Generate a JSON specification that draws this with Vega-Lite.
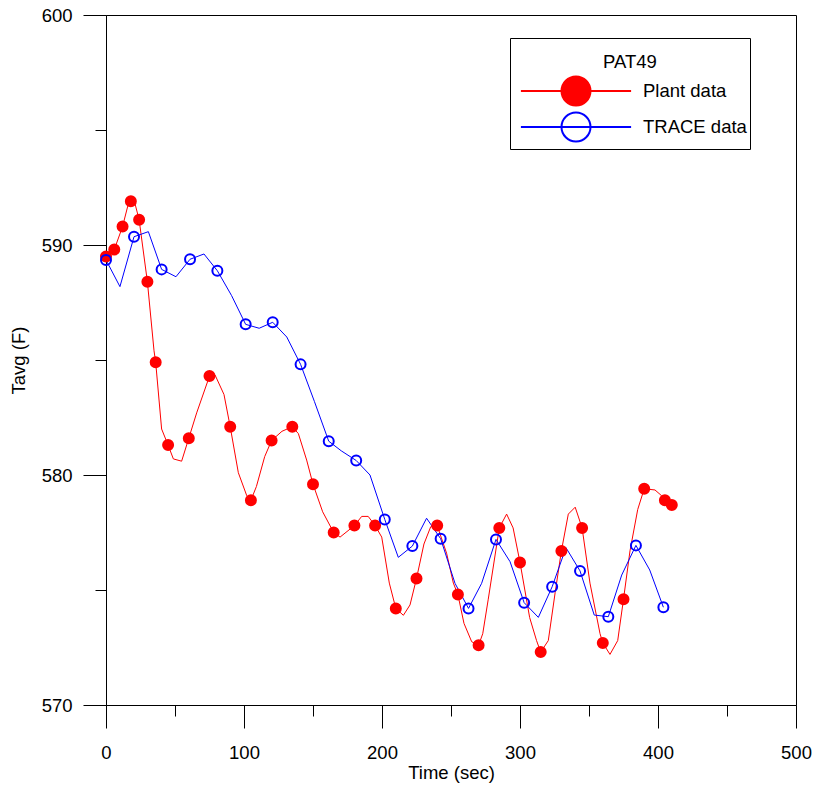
{
  "$schema": "https://vega.github.io/schema/vega-lite/v6.json",
  "autosize": "none",
  "width": 690,
  "height": 690,
  "padding": {"left": 106, "top": 15, "right": 22, "bottom": 87},
  "background": "white",
  "config": {
    "font": "Liberation Sans",
    "view": {"stroke": "black", "strokeWidth": 1},
    "axis": {
      "grid": false,
      "domainColor": "black",
      "tickColor": "black",
      "labelColor": "black",
      "titleColor": "black",
      "labelFont": "Liberation Sans",
      "titleFont": "Liberation Sans",
      "labelFontSize": 18.5,
      "titleFontSize": 18.5,
      "titleFontWeight": "normal",
      "labelFlush": false,
      "labelOverlap": false
    }
  },
  "datasets": {
    "lines": [
      {"series": "Plant data", "t": 0, "v": 589.5},
      {"series": "Plant data", "t": 6, "v": 589.8},
      {"series": "Plant data", "t": 12, "v": 590.8},
      {"series": "Plant data", "t": 17.5, "v": 592.1},
      {"series": "Plant data", "t": 21, "v": 591.8},
      {"series": "Plant data", "t": 24, "v": 591.1},
      {"series": "Plant data", "t": 30, "v": 588.4},
      {"series": "Plant data", "t": 34.8, "v": 585.4},
      {"series": "Plant data", "t": 36, "v": 584.9},
      {"series": "Plant data", "t": 40.3, "v": 582.0},
      {"series": "Plant data", "t": 45, "v": 581.3},
      {"series": "Plant data", "t": 48.8, "v": 580.7},
      {"series": "Plant data", "t": 54.8, "v": 580.6},
      {"series": "Plant data", "t": 60, "v": 581.6},
      {"series": "Plant data", "t": 65.7, "v": 582.7},
      {"series": "Plant data", "t": 75, "v": 584.3},
      {"series": "Plant data", "t": 79, "v": 584.35},
      {"series": "Plant data", "t": 85.5, "v": 583.5},
      {"series": "Plant data", "t": 90, "v": 582.1},
      {"series": "Plant data", "t": 95.9, "v": 580.1},
      {"series": "Plant data", "t": 102, "v": 579.1},
      {"series": "Plant data", "t": 105, "v": 578.9},
      {"series": "Plant data", "t": 109, "v": 579.5},
      {"series": "Plant data", "t": 115, "v": 580.8},
      {"series": "Plant data", "t": 120, "v": 581.5},
      {"series": "Plant data", "t": 127.5, "v": 581.9},
      {"series": "Plant data", "t": 135, "v": 582.1},
      {"series": "Plant data", "t": 139.4, "v": 581.8},
      {"series": "Plant data", "t": 145.4, "v": 580.65},
      {"series": "Plant data", "t": 150, "v": 579.6},
      {"series": "Plant data", "t": 157, "v": 578.4},
      {"series": "Plant data", "t": 165, "v": 577.5},
      {"series": "Plant data", "t": 169.6, "v": 577.3},
      {"series": "Plant data", "t": 180, "v": 577.8},
      {"series": "Plant data", "t": 185.3, "v": 578.2},
      {"series": "Plant data", "t": 190, "v": 578.2},
      {"series": "Plant data", "t": 195, "v": 577.8},
      {"series": "Plant data", "t": 199.8, "v": 577.3},
      {"series": "Plant data", "t": 205.3, "v": 575.3},
      {"series": "Plant data", "t": 210, "v": 574.2},
      {"series": "Plant data", "t": 215.5, "v": 573.9},
      {"series": "Plant data", "t": 220.3, "v": 574.35},
      {"series": "Plant data", "t": 225, "v": 575.5},
      {"series": "Plant data", "t": 230.4, "v": 577.0},
      {"series": "Plant data", "t": 235.3, "v": 577.75},
      {"series": "Plant data", "t": 240, "v": 577.8},
      {"series": "Plant data", "t": 246.8, "v": 576.6},
      {"series": "Plant data", "t": 251.7, "v": 575.3},
      {"series": "Plant data", "t": 255, "v": 574.8},
      {"series": "Plant data", "t": 259.4, "v": 573.55},
      {"series": "Plant data", "t": 265, "v": 572.75},
      {"series": "Plant data", "t": 270, "v": 572.6},
      {"series": "Plant data", "t": 273, "v": 573.1},
      {"series": "Plant data", "t": 277, "v": 574.6},
      {"series": "Plant data", "t": 285, "v": 577.7},
      {"series": "Plant data", "t": 290.3, "v": 578.3},
      {"series": "Plant data", "t": 295, "v": 577.7},
      {"series": "Plant data", "t": 300, "v": 576.2},
      {"series": "Plant data", "t": 307, "v": 573.8},
      {"series": "Plant data", "t": 312, "v": 572.8},
      {"series": "Plant data", "t": 315, "v": 572.3},
      {"series": "Plant data", "t": 320.5, "v": 572.8},
      {"series": "Plant data", "t": 325.5, "v": 574.9},
      {"series": "Plant data", "t": 330, "v": 576.7},
      {"series": "Plant data", "t": 335, "v": 578.3},
      {"series": "Plant data", "t": 340, "v": 578.6},
      {"series": "Plant data", "t": 345, "v": 577.7},
      {"series": "Plant data", "t": 350.7, "v": 575.3},
      {"series": "Plant data", "t": 358, "v": 573.1},
      {"series": "Plant data", "t": 360, "v": 572.7},
      {"series": "Plant data", "t": 365.2, "v": 572.2},
      {"series": "Plant data", "t": 370.8, "v": 572.8},
      {"series": "Plant data", "t": 375, "v": 574.6},
      {"series": "Plant data", "t": 379.7, "v": 576.7},
      {"series": "Plant data", "t": 385.3, "v": 578.5},
      {"series": "Plant data", "t": 390, "v": 579.4},
      {"series": "Plant data", "t": 397.8, "v": 579.35},
      {"series": "Plant data", "t": 402.6, "v": 579.1},
      {"series": "Plant data", "t": 405, "v": 578.9},
      {"series": "Plant data", "t": 410, "v": 578.7},
      {"series": "TRACE data", "t": 0, "v": 589.35},
      {"series": "TRACE data", "t": 10.1, "v": 588.19},
      {"series": "TRACE data", "t": 20.3, "v": 590.36},
      {"series": "TRACE data", "t": 30.7, "v": 590.58},
      {"series": "TRACE data", "t": 40.3, "v": 588.94},
      {"series": "TRACE data", "t": 50.7, "v": 588.62},
      {"series": "TRACE data", "t": 60.9, "v": 589.38},
      {"series": "TRACE data", "t": 71, "v": 589.61},
      {"series": "TRACE data", "t": 80.7, "v": 588.88},
      {"series": "TRACE data", "t": 91, "v": 587.8},
      {"series": "TRACE data", "t": 101.2, "v": 586.55},
      {"series": "TRACE data", "t": 111, "v": 586.38},
      {"series": "TRACE data", "t": 120.8, "v": 586.64},
      {"series": "TRACE data", "t": 131, "v": 586.0},
      {"series": "TRACE data", "t": 141, "v": 584.81},
      {"series": "TRACE data", "t": 151, "v": 583.2},
      {"series": "TRACE data", "t": 161.4, "v": 581.47},
      {"series": "TRACE data", "t": 170.5, "v": 581.05},
      {"series": "TRACE data", "t": 181.3, "v": 580.63},
      {"series": "TRACE data", "t": 191.3, "v": 580.0},
      {"series": "TRACE data", "t": 202, "v": 578.07},
      {"series": "TRACE data", "t": 211.8, "v": 576.42},
      {"series": "TRACE data", "t": 222, "v": 576.91},
      {"series": "TRACE data", "t": 232.3, "v": 578.12},
      {"series": "TRACE data", "t": 242.5, "v": 577.23},
      {"series": "TRACE data", "t": 252.9, "v": 575.29},
      {"series": "TRACE data", "t": 262.7, "v": 574.2},
      {"series": "TRACE data", "t": 272.2, "v": 575.29},
      {"series": "TRACE data", "t": 282.6, "v": 577.2},
      {"series": "TRACE data", "t": 292.8, "v": 576.23},
      {"series": "TRACE data", "t": 303, "v": 574.45},
      {"series": "TRACE data", "t": 313.3, "v": 573.81},
      {"series": "TRACE data", "t": 323.3, "v": 575.14},
      {"series": "TRACE data", "t": 333.3, "v": 576.84},
      {"series": "TRACE data", "t": 343.5, "v": 575.83},
      {"series": "TRACE data", "t": 353.8, "v": 573.91},
      {"series": "TRACE data", "t": 364, "v": 573.84},
      {"series": "TRACE data", "t": 373.7, "v": 575.65},
      {"series": "TRACE data", "t": 384, "v": 576.94},
      {"series": "TRACE data", "t": 394, "v": 575.87},
      {"series": "TRACE data", "t": 403.9, "v": 574.25}
    ],
    "markers": [
      {"series": "Plant data", "t": 0, "v": 589.5},
      {"series": "Plant data", "t": 6, "v": 589.8},
      {"series": "Plant data", "t": 12, "v": 590.8},
      {"series": "Plant data", "t": 18, "v": 591.9},
      {"series": "Plant data", "t": 24, "v": 591.1},
      {"series": "Plant data", "t": 30, "v": 588.4},
      {"series": "Plant data", "t": 36, "v": 584.9},
      {"series": "Plant data", "t": 45, "v": 581.3},
      {"series": "Plant data", "t": 60, "v": 581.6},
      {"series": "Plant data", "t": 75, "v": 584.3},
      {"series": "Plant data", "t": 90, "v": 582.1},
      {"series": "Plant data", "t": 105, "v": 578.9},
      {"series": "Plant data", "t": 120, "v": 581.5},
      {"series": "Plant data", "t": 135, "v": 582.1},
      {"series": "Plant data", "t": 150, "v": 579.6},
      {"series": "Plant data", "t": 165, "v": 577.5},
      {"series": "Plant data", "t": 180, "v": 577.8},
      {"series": "Plant data", "t": 195, "v": 577.8},
      {"series": "Plant data", "t": 210, "v": 574.2},
      {"series": "Plant data", "t": 225, "v": 575.5},
      {"series": "Plant data", "t": 240, "v": 577.8},
      {"series": "Plant data", "t": 255, "v": 574.8},
      {"series": "Plant data", "t": 270, "v": 572.6},
      {"series": "Plant data", "t": 285, "v": 577.7},
      {"series": "Plant data", "t": 300, "v": 576.2},
      {"series": "Plant data", "t": 315, "v": 572.3},
      {"series": "Plant data", "t": 330, "v": 576.7},
      {"series": "Plant data", "t": 345, "v": 577.7},
      {"series": "Plant data", "t": 360, "v": 572.7},
      {"series": "Plant data", "t": 375, "v": 574.6},
      {"series": "Plant data", "t": 390, "v": 579.4},
      {"series": "Plant data", "t": 405, "v": 578.9},
      {"series": "Plant data", "t": 410, "v": 578.7},
      {"series": "TRACE data", "t": 0, "v": 589.35},
      {"series": "TRACE data", "t": 20.3, "v": 590.36},
      {"series": "TRACE data", "t": 40.3, "v": 588.94},
      {"series": "TRACE data", "t": 60.9, "v": 589.38},
      {"series": "TRACE data", "t": 80.7, "v": 588.88},
      {"series": "TRACE data", "t": 101.2, "v": 586.55},
      {"series": "TRACE data", "t": 120.8, "v": 586.64},
      {"series": "TRACE data", "t": 141, "v": 584.81},
      {"series": "TRACE data", "t": 161.4, "v": 581.47},
      {"series": "TRACE data", "t": 181.3, "v": 580.63},
      {"series": "TRACE data", "t": 202, "v": 578.07},
      {"series": "TRACE data", "t": 222, "v": 576.91},
      {"series": "TRACE data", "t": 242.5, "v": 577.23},
      {"series": "TRACE data", "t": 262.7, "v": 574.2},
      {"series": "TRACE data", "t": 282.6, "v": 577.2},
      {"series": "TRACE data", "t": 303, "v": 574.45},
      {"series": "TRACE data", "t": 323.3, "v": 575.14},
      {"series": "TRACE data", "t": 343.5, "v": 575.83},
      {"series": "TRACE data", "t": 364, "v": 573.84},
      {"series": "TRACE data", "t": 384, "v": 576.94},
      {"series": "TRACE data", "t": 403.9, "v": 574.25}
    ]
  },
  "encoding": {
    "x": {
      "field": "t",
      "type": "quantitative",
      "scale": {"domain": [0, 500], "nice": false, "zero": false},
      "axis": {
        "title": "Time (sec)",
        "values": [0, 50, 100, 150, 200, 250, 300, 350, 400, 450, 500],
        "tickSize": {"condition": {"test": "datum.value % 100 === 0", "value": 23}, "value": 11},
        "labelExpr": "datum.value % 100 === 0 ? datum.label : ''",
        "labelPadding": 15,
        "titlePadding": 2
      }
    },
    "y": {
      "field": "v",
      "type": "quantitative",
      "scale": {"domain": [570, 600], "nice": false, "zero": false},
      "axis": {
        "title": "Tavg (F)",
        "values": [570, 575, 580, 585, 590, 595, 600],
        "tickSize": {"condition": {"test": "datum.value % 10 === 0", "value": 23}, "value": 11},
        "labelExpr": "datum.value % 10 === 0 ? datum.label : ''",
        "labelPadding": 11,
        "titlePadding": 13
      }
    }
  },
  "layer": [
    {
      "data": {"name": "lines"},
      "mark": {"type": "line", "strokeWidth": 1},
      "encoding": {
        "color": {
          "field": "series",
          "type": "nominal",
          "scale": {"range": ["#ff0000", "#0000ff"]},
          "legend": null
        }
      }
    },
    {
      "data": {"name": "markers"},
      "mark": {"type": "point", "size": 100, "strokeWidth": 2, "opacity": 1},
      "encoding": {
        "stroke": {
          "field": "series",
          "type": "nominal",
          "scale": {"domain": ["Plant data", "TRACE data"], "range": ["#ff0000", "#0000ff"]},
          "legend": {
            "orient": "none", "legendX": 404, "legendY": 23,
            "title": "PAT49", "titleFontSize": 18.5, "titleFontWeight": "normal", "titleColor": "black", "titleFont": "Liberation Sans", "titleAnchor": "middle",
            "titleBaseline": "line-top", "titleLineHeight": 43, "titlePadding": 16,
            "labelFontSize": 18.5, "labelColor": "black", "labelFont": "Liberation Sans", "labelOffset": 51.5,
            "labelExpr": "datum.label + '\u00a0\u00a0'",
            "symbolType": "M-3.8,0L3.8,0M1,0C1,0.5523,0.5523,1,0,1C-0.5523,1,-1,0.5523,-1,0C-1,-0.5523,-0.5523,-1,0,-1C0.5523,-1,1,-0.5523,1,0Z",
            "symbolSize": 841, "symbolStrokeWidth": 2, "symbolOffset": 47.5,
            "padding": 3, "rowPadding": -1, "strokeColor": "black", "fillColor": "white"
          }
        },
        "fill": {
          "field": "series",
          "type": "nominal",
          "scale": {"domain": ["Plant data", "TRACE data"], "range": ["#ff0000", "transparent"]},
          "legend": {
            "orient": "none", "legendX": 404, "legendY": 23,
            "title": "PAT49", "titleFontSize": 18.5, "titleFontWeight": "normal", "titleColor": "black", "titleFont": "Liberation Sans", "titleAnchor": "middle",
            "titleBaseline": "line-top", "titleLineHeight": 43, "titlePadding": 16,
            "labelFontSize": 18.5, "labelColor": "black", "labelFont": "Liberation Sans", "labelOffset": 51.5,
            "labelExpr": "datum.label + '\u00a0\u00a0'",
            "symbolType": "M-3.8,0L3.8,0M1,0C1,0.5523,0.5523,1,0,1C-0.5523,1,-1,0.5523,-1,0C-1,-0.5523,-0.5523,-1,0,-1C0.5523,-1,1,-0.5523,1,0Z",
            "symbolSize": 841, "symbolStrokeWidth": 2, "symbolOffset": 47.5,
            "padding": 3, "rowPadding": -1, "strokeColor": "black", "fillColor": "white"
          }
        }
      }
    }
  ]
}
